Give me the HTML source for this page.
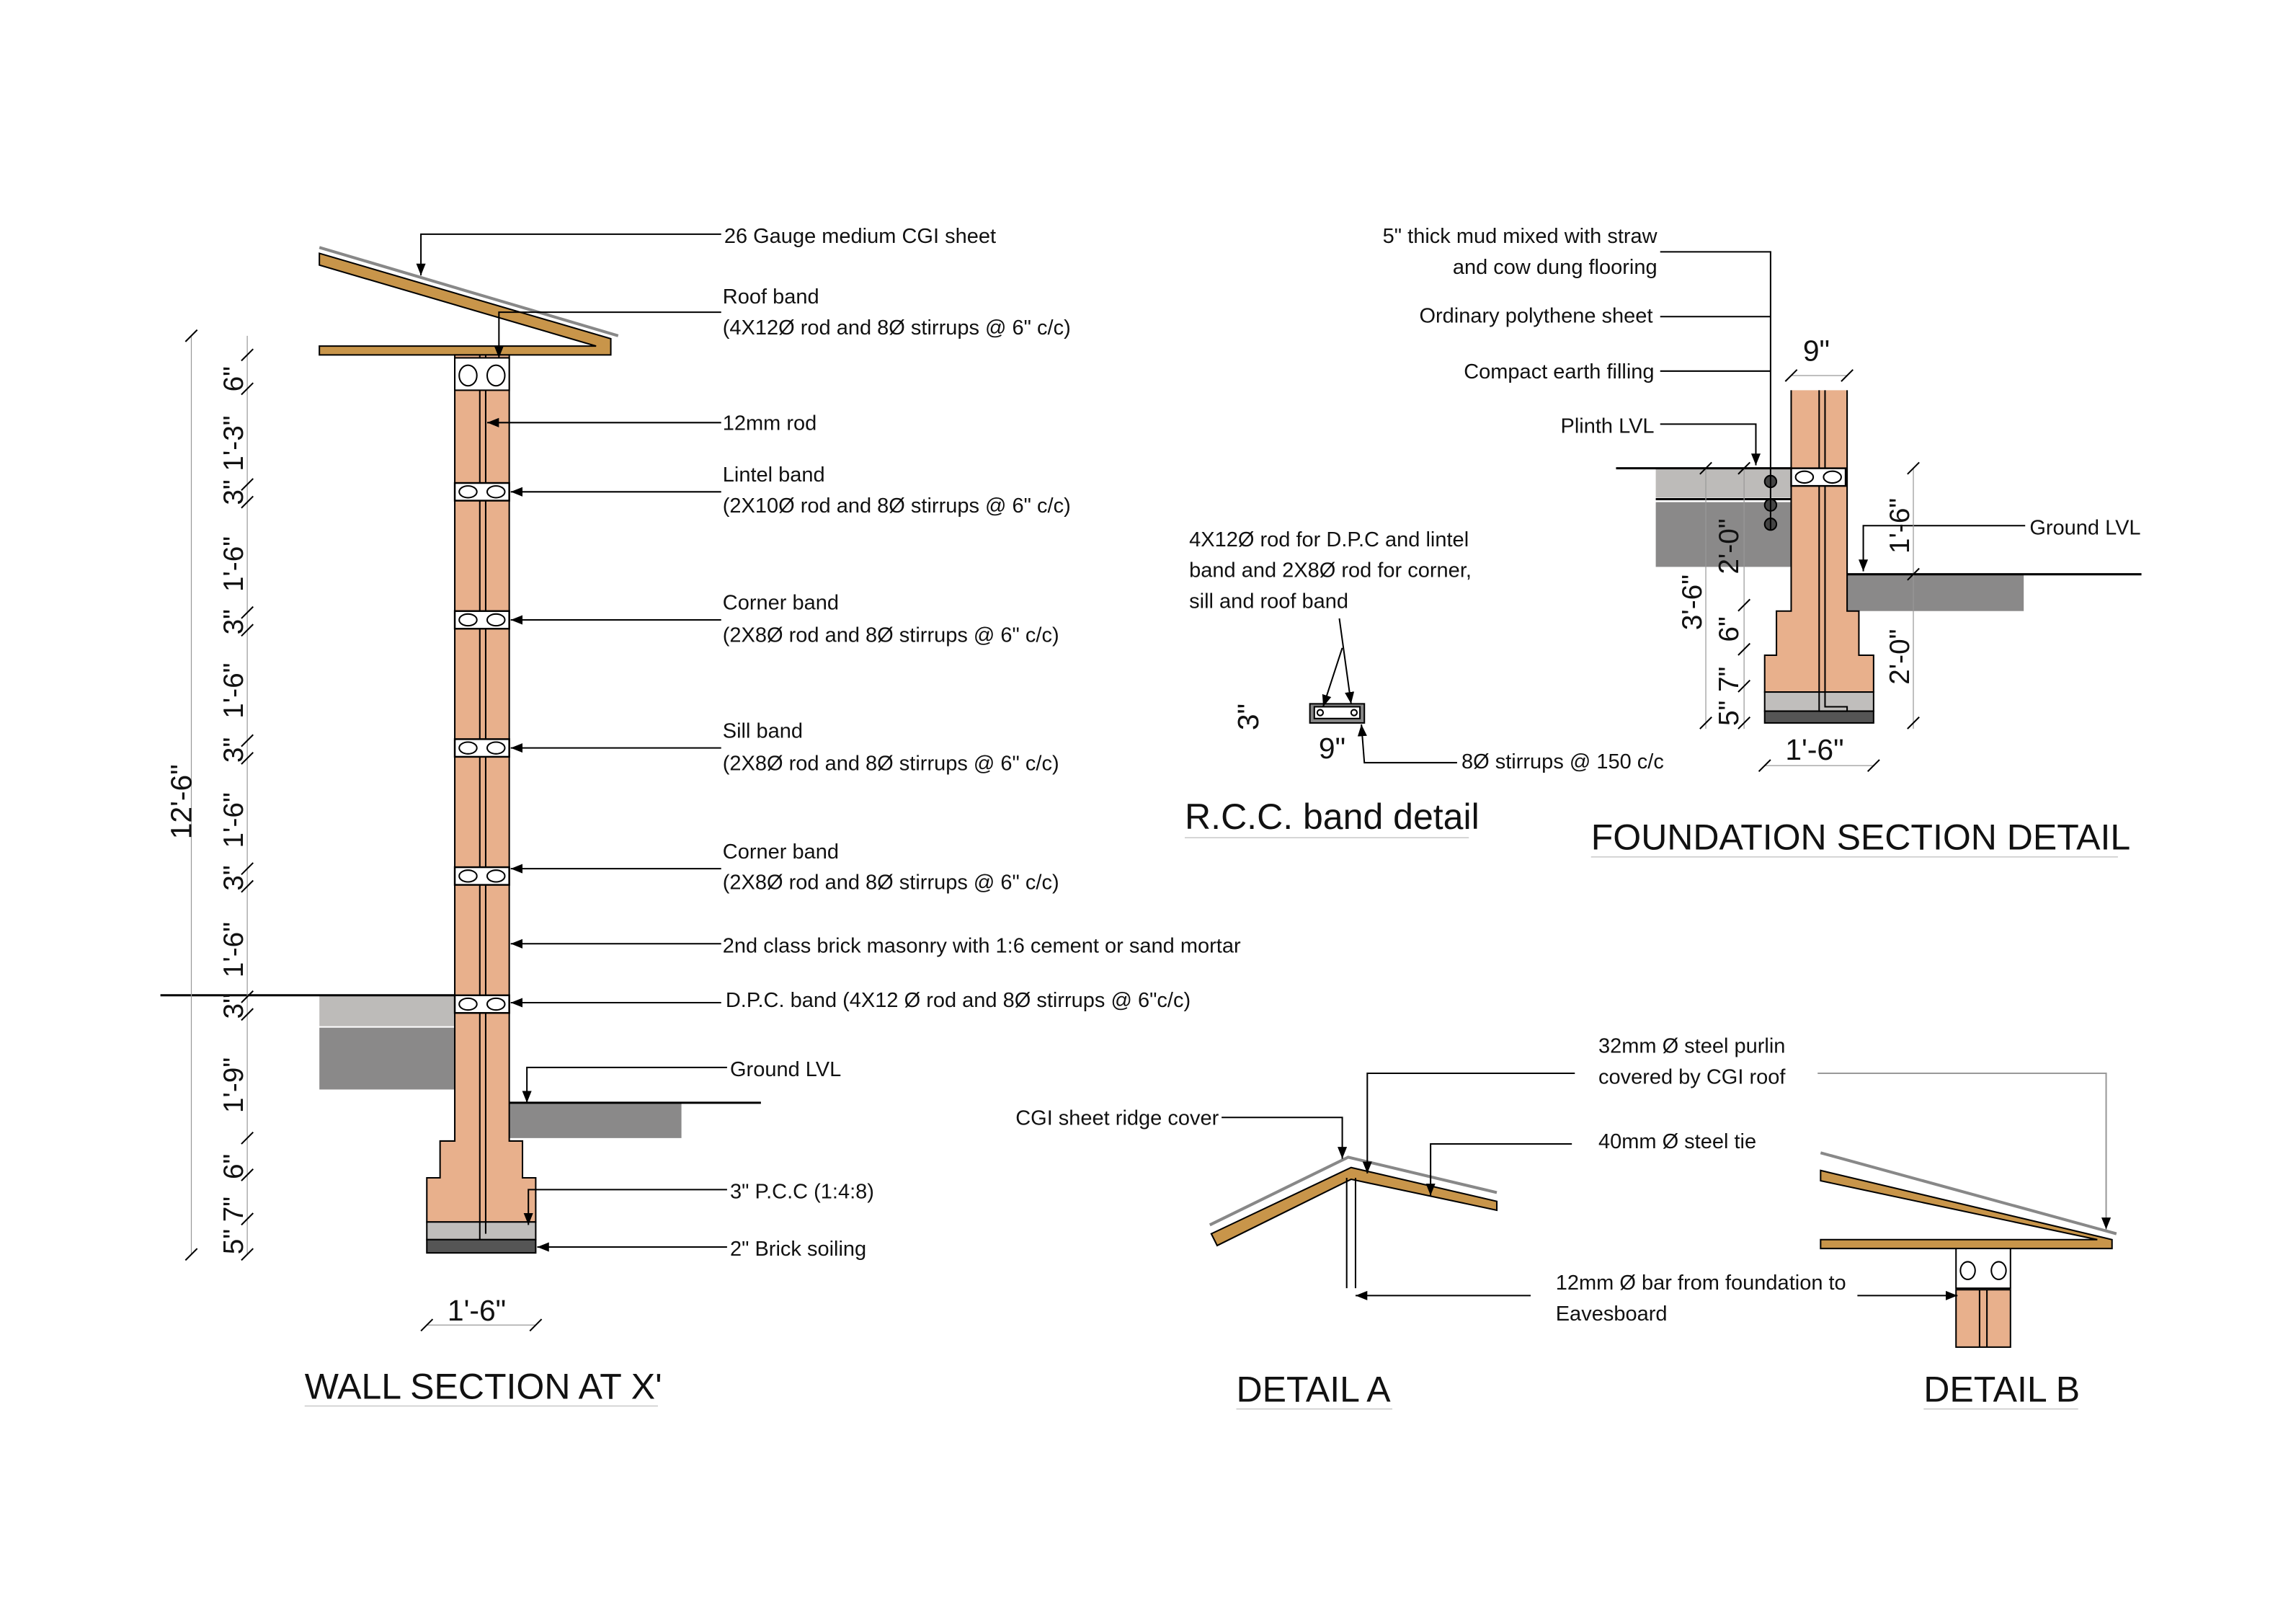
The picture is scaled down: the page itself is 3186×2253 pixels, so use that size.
<!DOCTYPE html>
<html><head><meta charset="utf-8"><style>
html,body{margin:0;padding:0;background:#fff}
svg{display:block}
text{font-family:"Liberation Sans",sans-serif;fill:#111}
</style></head><body>
<svg width="3186" height="2253" viewBox="0 0 1560 1103" xmlns="http://www.w3.org/2000/svg">
<defs>
<marker id="a" viewBox="0 0 10 10" refX="10" refY="5" markerWidth="8" markerHeight="8" orient="auto-start-reverse" markerUnits="userSpaceOnUse"><path d="M0,1 L10,5 L0,9Z" fill="#000"/></marker>
<g id="band"><rect x="0" y="0" width="37" height="12" fill="#fff" stroke="#000" stroke-width="1.2"/><ellipse cx="9" cy="6" rx="6" ry="4" fill="none" stroke="#000"/><ellipse cx="28" cy="6" rx="6" ry="4" fill="none" stroke="#000"/></g>
</defs>
<g stroke="#000" fill="none" stroke-width="1">
<polygon points="217,172 415,230 415,241 217,241 217,235 405,235 217,180" fill="#c8954a"/>
<line x1="217" y1="168" x2="420" y2="228" stroke="#888" stroke-width="2"/>
<rect x="217" y="676" width="92" height="21" fill="#bdbbb9" stroke="none"/>
<rect x="217" y="698" width="92" height="42" fill="#8a8989" stroke="none"/>
<rect x="346" y="749" width="117" height="24" fill="#8a8989" stroke="none"/>
<line x1="109" y1="676" x2="309" y2="676" stroke-width="1.5"/>
<line x1="346" y1="749" x2="517" y2="749" stroke-width="1.5"/>
<polygon points="309,241 346,241 346,775 355,775 355,800 364,800 364,830 290,830 290,800 299,800 299,775 309,775" fill="#e8b08c"/>
<rect x="290" y="830" width="74" height="12" fill="#c0bebc"/>
<rect x="290" y="842" width="74" height="9" fill="#555"/>
<line x1="326" y1="241" x2="326" y2="842" stroke-width="1"/>
<line x1="330" y1="241" x2="330" y2="838"/>
<rect x="309" y="243" width="37" height="22" fill="#fff" stroke="#000"/>
<ellipse cx="318" cy="255" rx="6" ry="7"/><ellipse cx="337" cy="255" rx="6" ry="7"/>
<use href="#band" x="309" y="328"/><use href="#band" x="309" y="415"/><use href="#band" x="309" y="502"/><use href="#band" x="309" y="589"/><use href="#band" x="309" y="676"/>
<polyline points="490,159 286,159 286,187" marker-end="url(#a)"/>
<polyline points="490,212 339,212 339,243" marker-end="url(#a)"/>
<line x1="490" y1="287" x2="331" y2="287" marker-end="url(#a)"/>
<line x1="490" y1="334" x2="347" y2="334" marker-end="url(#a)"/>
<line x1="490" y1="421" x2="347" y2="421" marker-end="url(#a)"/>
<line x1="490" y1="508" x2="347" y2="508" marker-end="url(#a)"/>
<line x1="490" y1="590" x2="347" y2="590" marker-end="url(#a)"/>
<line x1="490" y1="641" x2="347" y2="641" marker-end="url(#a)"/>
<line x1="490" y1="681" x2="347" y2="681" marker-end="url(#a)"/>
<polyline points="494,725 358,725 358,749" marker-end="url(#a)"/>
<polyline points="494,808 359,808 359,832" marker-end="url(#a)"/>
<line x1="494" y1="847" x2="365" y2="847" marker-end="url(#a)"/>
<line x1="168" y1="228" x2="168" y2="852" stroke="#999" stroke-width="0.6"/>
<line x1="130" y1="228" x2="130" y2="852" stroke="#999" stroke-width="0.6"/>
<line x1="290" y1="900" x2="364" y2="900" stroke="#999" stroke-width="0.6"/>
<path d="M164,245l8,-8M164,268l8,-8M164,333l8,-8M164,345l8,-8M164,420l8,-8M164,432l8,-8M164,507l8,-8M164,519l8,-8M164,594l8,-8M164,606l8,-8M164,681l8,-8M164,693l8,-8M164,777l8,-8M164,802l8,-8M164,832l8,-8M164,856l8,-8M126,232l8,-8M126,856l8,-8M286,904l8,-8M360,904l8,-8"/>
<rect x="1125" y="318" width="92" height="20" fill="#bdbbb9" stroke="none"/>
<rect x="1125" y="341" width="92" height="44" fill="#8a8989" stroke="none"/>
<line x1="1125" y1="339" x2="1217" y2="339" stroke-width="1.5"/>
<rect x="1255" y="390" width="120" height="25" fill="#8a8989" stroke="none"/>
<line x1="1098" y1="318" x2="1255" y2="318" stroke-width="1.5"/>
<line x1="1255" y1="390" x2="1455" y2="390" stroke-width="1.5"/>
<polygon points="1217,265 1255,265 1255,415 1263,415 1263,445 1273,445 1273,470 1199,470 1199,445 1207,445 1207,415 1217,415" fill="#e8b08c" stroke="none"/>
<polyline points="1217,265 1217,415 1207,415 1207,445 1199,445 1199,470 1273,470 1273,445 1263,445 1263,415 1255,415 1255,265"/>
<rect x="1199" y="470" width="74" height="13" fill="#c0bebc"/>
<rect x="1199" y="483" width="74" height="8" fill="#555"/>
<polyline points="1236,265 1236,483 1255,483 1255,480 1240,480 1240,265"/>
<use href="#band" x="1217" y="318"/>
<circle cx="1203" cy="327" r="4" fill="#444"/><circle cx="1203" cy="343" r="4" fill="#444"/><circle cx="1203" cy="356" r="4" fill="#444"/>
<polyline points="1128,171 1203,171 1203,360"/>
<line x1="1128" y1="215" x2="1203" y2="215"/>
<line x1="1128" y1="252" x2="1203" y2="252"/>
<polyline points="1128,288 1193,288 1193,316" marker-end="url(#a)"/>
<polyline points="1376,357 1266,357 1266,388" marker-end="url(#a)"/>
<g stroke="#999" stroke-width="0.6"><line x1="1159" y1="318" x2="1159" y2="495"/><line x1="1185" y1="318" x2="1185" y2="495"/><line x1="1300" y1="318" x2="1300" y2="495"/><line x1="1199" y1="520" x2="1273" y2="520"/><line x1="1217" y1="255" x2="1255" y2="255"/></g>
<path d="M1155,322l8,-8M1181,322l8,-8M1296,322l8,-8M1296,394l8,-8M1181,415l8,-8M1181,445l8,-8M1181,470l8,-8M1155,495l8,-8M1181,495l8,-8M1296,495l8,-8M1195,524l8,-8M1269,524l8,-8M1213,259l8,-8M1251,259l8,-8"/>
<rect x="890" y="478" width="37" height="13" fill="#888"/>
<rect x="893" y="480" width="31" height="8" fill="#fff"/>
<circle cx="897" cy="484" r="2"/><circle cx="920" cy="484" r="2"/>
<polyline points="910,420 918,478" marker-end="url(#a)"/>
<line x1="912" y1="440" x2="899" y2="480" marker-end="url(#a)"/>
<polyline points="990,518 927,518 925,492" marker-end="url(#a)"/>
<polygon points="823,838 918,793 1017,816 1017,822 918,801 827,846" fill="#c8954a"/>
<polyline points="822,832 916,786 1017,810" stroke="#888" stroke-width="2"/>
<line x1="915" y1="800" x2="915" y2="875"/><line x1="921" y1="800" x2="921" y2="875"/>
<polyline points="830,759 912,759 912,787" marker-end="url(#a)"/>
<polyline points="1070,729 929,729 929,797" marker-end="url(#a)"/>
<polyline points="1068,777 972,777 972,812" marker-end="url(#a)"/>
<line x1="1040" y1="880" x2="921" y2="880" marker-end="url(#a)"/>
<polygon points="1237,795 1435,842 1435,848 1237,848 1237,842 1425,842 1237,802" fill="#c8954a"/>
<line x1="1237" y1="783" x2="1438" y2="838" stroke="#888" stroke-width="2"/>
<rect x="1329" y="848" width="37" height="27" fill="#fff"/>
<ellipse cx="1337" cy="863" rx="5" ry="6"/><ellipse cx="1358" cy="863" rx="5" ry="6"/>
<rect x="1329" y="876" width="37" height="39" fill="#e8b08c"/>
<line x1="1345" y1="876" x2="1345" y2="915"/><line x1="1350" y1="876" x2="1350" y2="915"/>
<polyline points="1235,729 1431,729 1431,835" stroke="#999" marker-end="url(#a)"/>
<line x1="1262" y1="880" x2="1330" y2="880" marker-end="url(#a)"/>
<g stroke="#ccc" stroke-width="0.8"><line x1="207" y1="955" x2="447" y2="955"/><line x1="805" y1="569" x2="998" y2="569"/><line x1="1081" y1="582" x2="1439" y2="582"/><line x1="840" y1="957" x2="946" y2="957"/><line x1="1307" y1="957" x2="1412" y2="957"/></g>
</g>
<g font-size="14.2">
<text x="492" y="165">26 Gauge medium CGI sheet</text>
<text x="491" y="206">Roof band</text><text x="491" y="227">(4X12Ø rod and 8Ø stirrups @ 6" c/c)</text>
<text x="491" y="292">12mm rod</text>
<text x="491" y="327">Lintel band</text><text x="491" y="348">(2X10Ø rod and 8Ø stirrups @ 6" c/c)</text>
<text x="491" y="414">Corner band</text><text x="491" y="436">(2X8Ø rod and 8Ø stirrups @ 6" c/c)</text>
<text x="491" y="501">Sill band</text><text x="491" y="523">(2X8Ø rod and 8Ø stirrups @ 6" c/c)</text>
<text x="491" y="583">Corner band</text><text x="491" y="604">(2X8Ø rod and 8Ø stirrups @ 6" c/c)</text>
<text x="491" y="647">2nd class brick masonry with 1:6 cement or sand mortar</text>
<text x="493" y="684">D.P.C. band (4X12 Ø rod and 8Ø stirrups @ 6"c/c)</text>
<text x="496" y="731">Ground LVL</text>
<text x="496" y="814">3" P.C.C (1:4:8)</text>
<text x="496" y="853">2" Brick soiling</text>
<text x="1126" y="165" text-anchor="end">5" thick mud mixed with straw</text>
<text x="1126" y="186" text-anchor="end">and cow dung flooring</text>
<text x="1123" y="219" text-anchor="end">Ordinary polythene sheet</text>
<text x="1124" y="257" text-anchor="end">Compact earth filling</text>
<text x="1124" y="294" text-anchor="end">Plinth LVL</text>
<text x="1379" y="363">Ground LVL</text>
<text x="808" y="371">4X12Ø rod for D.P.C and lintel</text>
<text x="808" y="392">band and 2X8Ø rod for corner,</text>
<text x="808" y="413">sill and roof band</text>
<text x="993" y="522">8Ø stirrups @ 150 c/c</text>
<text x="1086" y="715">32mm Ø steel purlin</text><text x="1086" y="736">covered by CGI roof</text>
<text x="690" y="764">CGI sheet ridge cover</text>
<text x="1086" y="780">40mm Ø steel tie</text>
<text x="1057" y="876">12mm Ø bar from foundation to</text><text x="1057" y="897">Eavesboard</text>
</g>
<g font-size="20">
<text x="304" y="897">1'-6"</text>
<text x="1213" y="516">1'-6"</text>
<text x="1225" y="245">9"</text>
<text x="896" y="515">9"</text>
<text transform="translate(855,496) rotate(-90)">3"</text>
<text transform="translate(130,570) rotate(-90)">12'-6"</text>
<g font-size="19">
<text transform="translate(165,266) rotate(-90)">6"</text>
<text transform="translate(165,320) rotate(-90)">1'-3"</text>
<text transform="translate(165,343) rotate(-90)">3"</text>
<text transform="translate(165,402) rotate(-90)">1'-6"</text>
<text transform="translate(165,431) rotate(-90)">3"</text>
<text transform="translate(165,488) rotate(-90)">1'-6"</text>
<text transform="translate(165,518) rotate(-90)">3"</text>
<text transform="translate(165,576) rotate(-90)">1'-6"</text>
<text transform="translate(165,605) rotate(-90)">3"</text>
<text transform="translate(165,664) rotate(-90)">1'-6"</text>
<text transform="translate(165,692) rotate(-90)">3"</text>
<text transform="translate(165,756) rotate(-90)">1'-9"</text>
<text transform="translate(165,801) rotate(-90)">6"</text>
<text transform="translate(165,830) rotate(-90)">7"</text>
<text transform="translate(165,852) rotate(-90)">5"</text>
<text transform="translate(1156,428) rotate(-90)">3'-6"</text>
<text transform="translate(1181,390) rotate(-90)">2'-0"</text>
<text transform="translate(1181,436) rotate(-90)">6"</text>
<text transform="translate(1181,470) rotate(-90)">7"</text>
<text transform="translate(1181,493) rotate(-90)">5"</text>
<text transform="translate(1297,376) rotate(-90)">1'-6"</text>
<text transform="translate(1297,465) rotate(-90)">2'-0"</text>
</g>
</g>
<g font-size="24.5">
<text x="207" y="950">WALL SECTION AT X'</text>
<text x="805" y="563">R.C.C. band detail</text>
<text x="1081" y="577">FOUNDATION SECTION DETAIL</text>
<text x="840" y="952">DETAIL A</text>
<text x="1307" y="952">DETAIL B</text>
</g>
</svg>
</body></html>
